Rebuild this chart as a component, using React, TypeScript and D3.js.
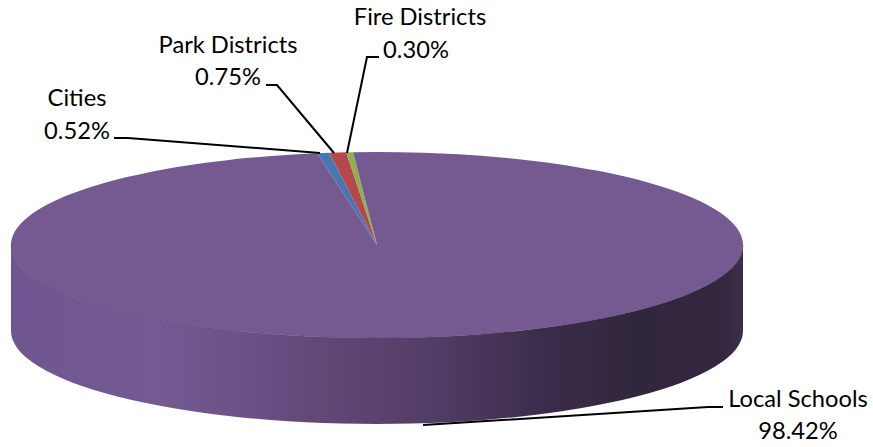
import { useEffect, useRef } from 'react';
import * as d3 from 'd3';

const categories = ['Cities', 'Park Districts', 'Fire Districts', 'Local Schools'];
const shares = [0.52, 0.75, 0.3, 98.42];
const shareLabels = ['0.52%', '0.75%', '0.30%', '98.42%'];
const sliceColors = ['#4378b4', '#b5484a', '#8fb04f', '#755a92'];

const width = 873;
const height = 447;

export default function App() {
  const svgRef = useRef<SVGSVGElement | null>(null);

  useEffect(() => {
    if (!svgRef.current) return;

    const svg = d3.select(svgRef.current).attr('width', width).attr('height', height);
    svg.selectAll('*').remove();

    const cx = 377;
    const cy = 245;
    const rx = 366;
    const ry = 93;
    const depth = 86;

    // Side wall shading runs left to right across the disc
    const defs = svg.append('defs');
    const grad = defs
      .append('linearGradient')
      .attr('id', 'wall-gradient')
      .attr('gradientUnits', 'userSpaceOnUse')
      .attr('x1', cx - rx)
      .attr('x2', cx + rx)
      .attr('y1', 0)
      .attr('y2', 0);
    const stops: [number, string][] = [
      [0, '#6f5690'],
      [0.2, '#745a92'],
      [0.33, '#6a5087'],
      [0.4, '#624979'],
      [0.5, '#5a4370'],
      [0.6, '#4f3b62'],
      [0.72, '#3c2d4c'],
      [0.85, '#31273d'],
      [0.97, '#33283f'],
      [1, '#3b2e4b'],
    ];
    stops.forEach(([o, c]) => grad.append('stop').attr('offset', o).attr('stop-color', c));

    svg
      .append('path')
      .attr(
        'd',
        `M${cx - rx},${cy} A${rx},${ry} 0 0 0 ${cx + rx},${cy} L${cx + rx},${cy + depth} A${rx},${ry} 0 0 1 ${cx - rx},${cy + depth} Z`
      )
      .attr('fill', 'url(#wall-gradient)');

    // Top face: a normal pie squashed to an ellipse
    const startAngle = (-9.4 * Math.PI) / 180;
    const pie = d3
      .pie<number>()
      .sort(null)
      .startAngle(startAngle)
      .endAngle(startAngle + 2 * Math.PI);
    const arc = d3.arc<d3.PieArcDatum<number>>().innerRadius(0).outerRadius(rx);

    const top = svg.append('g').attr('transform', `translate(${cx},${cy}) scale(1,${ry / rx})`);
    top
      .selectAll('path')
      .data(pie(shares))
      .enter()
      .append('path')
      .attr('d', arc)
      .attr('fill', (_, i) => sliceColors[i]);

    // Faint edge where top meets wall
    svg
      .append('path')
      .attr('d', `M${cx - rx},${cy} A${rx},${ry} 0 0 0 ${cx + rx},${cy}`)
      .attr('fill', 'none')
      .attr('stroke', '#5f4676')
      .attr('stroke-opacity', 0.5)
      .attr('stroke-width', 1);

    // Leader lines
    const leaders = [
      [[114, 138], [128, 138], [320, 153]],
      [[266, 85], [277, 85], [334, 153]],
      [[379, 57], [367, 57], [347, 153]],
      [[723, 407], [708, 407], [423, 425]],
    ] as [number, number][][];
    const line = d3.line();
    svg
      .append('g')
      .selectAll('path')
      .data(leaders)
      .enter()
      .append('path')
      .attr('d', (d) => line(d))
      .attr('fill', 'none')
      .attr('stroke', '#000')
      .attr('stroke-width', 2);

    // Labels
    const labelPos = [
      { x: 77, vx: 77, name: 106, value: 138.5 },
      { x: 228, vx: 228, name: 53, value: 85 },
      { x: 420, vx: 416, name: 25, value: 58 },
      { x: 798, vx: 798, name: 407, value: 439 },
    ];
    const labels = svg
      .append('g')
      .attr('font-family', 'Lato, "Open Sans", sans-serif')
      .attr('font-size', 23.7)
      .attr('text-anchor', 'middle')
      .attr('fill', '#000');
    categories.forEach((c, i) => {
      const p = labelPos[i];
      labels.append('text').attr('x', p.x).attr('y', p.name).text(c);
      labels.append('text').attr('x', p.vx).attr('y', p.value).text(shareLabels[i]);
    });
  }, []);

  return <svg ref={svgRef} style={{ position: 'absolute', left: 0, top: 0, display: 'block' }} />;
}
